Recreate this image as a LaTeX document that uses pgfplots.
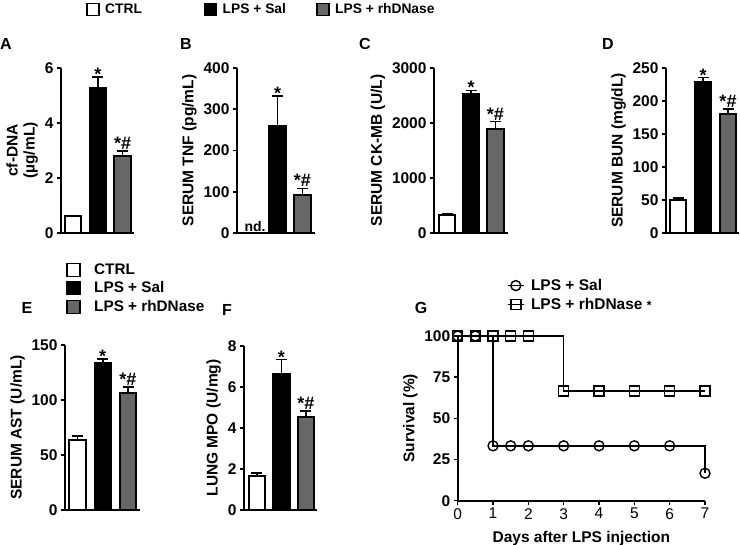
\documentclass[border=0pt]{standalone}
\usepackage{fontspec}
\setmainfont{Liberation Sans}
\usepackage{pgfplots}
\pgfplotsset{compat=1.18}
\definecolor{darkg}{HTML}{676767}
\newcommand\lab{\bfseries\fontsize{15.5bp}{17bp}\selectfont}
\newcommand\tck{\bfseries\fontsize{15.5bp}{17bp}\selectfont}
\newcommand\ann{\bfseries\fontsize{18bp}{19bp}\selectfont}
\newcommand\plab{\bfseries\fontsize{16bp}{17bp}\selectfont}
\pgfplotsset{
  barpanel/.style={
    scale only axis, anchor=south west,
    axis lines=left, axis line style={-, line width=2bp},
    xtick=\empty, ymin=0,
    ybar, bar shift=0pt, bar width=16.5bp,
    tick style={black, line width=1.6bp},
    major tick length=4bp, tick align=outside,
    yticklabel style={font=\tck},
    ylabel style={font=\lab, align=center},
    /pgf/number format/assume math mode=true,
    /pgf/number format/1000 sep={},
    clip=false,
  },
  bars/.style={draw=black, line width=1.8bp,
    error bars/y dir=plus, error bars/y explicit,
    error bars/error bar style={line width=1.8bp, black},
    error bars/error mark options={black, line width=1.8bp, mark size=5.5bp, rotate=90}},
  legbox/.style={hide axis, scale only axis, width=1bp, height=1bp,
    xmin=0, xmax=1, ymin=0, ymax=1, anchor=north west},
}
\tikzset{
  astr/.style={anchor=base, font=\ann, yshift=-3.5bp},
  ahash/.style={anchor=base, font=\ann, yshift=1.5bp},
}
\begin{document}
\begin{tikzpicture}
\useasboundingbox (0,0) rectangle (740bp,-545bp);

% ---------- top legend
\begin{axis}[legbox, at={(86bp,-2bp)},
  legend columns=3,
  legend style={at={(0,1)}, anchor=north west, draw=none, fill=none, inner sep=0pt,
    font=\bfseries\fontsize{13.8bp}{15bp}\selectfont,
    nodes={inner sep=1.5bp, anchor=west},
    /tikz/every odd column/.append style={column sep=4bp}},
  legend image code/.code={\draw[#1] (0bp,-6bp) rectangle (12bp,6bp);}]
\addlegendimage{fill=white, draw=black, line width=1.5bp}
\addlegendentry{\makebox[97bp][l]{CTRL}}
\addlegendimage{fill=black, draw=black, line width=1.5bp}
\addlegendentry{\makebox[92bp][l]{LPS + Sal}}
\addlegendimage{fill=darkg, draw=black, line width=1.5bp}
\addlegendentry{LPS + rhDNase}
\end{axis}

% ---------- A
\begin{axis}[barpanel, at={(61bp,-233bp)}, width=73bp, height=165bp,
  xmin=0.515, xmax=3.46, ymax=6, ytick={0,2,4,6},
  ylabel={cf-DNA\\(µg/mL)}]
\addplot[bars, fill=white] coordinates {(1,0.61) +- (0,0.03)};
\addplot[bars, fill=black] coordinates {(2,5.29) +- (0,0.37)};
\addplot[bars, fill=darkg] coordinates {(3,2.80) +- (0,0.18)};
\node[astr] at (axis cs:2,5.66) {*};
\node[ahash] at (axis cs:3,2.98) {*\#};
\end{axis}

% ---------- B
\begin{axis}[barpanel, at={(237bp,-233bp)}, width=78bp, height=165bp,
  xmin=0.38, xmax=3.5, ymax=400, ytick={0,100,200,300,400},
  ylabel={SERUM TNF (pg/mL)}]
\addplot[bars, fill=black] coordinates {(2,260) +- (0,73)};
\addplot[bars, fill=darkg] coordinates {(3,93) +- (0,15)};
\node[astr] at (axis cs:2,333) {*};
\node[ahash] at (axis cs:3,108) {*\#};
\node[anchor=base, font=\bfseries\fontsize{14bp}{15bp}\selectfont, yshift=2bp] at (axis cs:1.1,0) {nd.};
\end{axis}

% ---------- C
\begin{axis}[barpanel, at={(434bp,-233bp)}, width=74bp, height=165bp,
  xmin=0.46, xmax=3.52, ymax=3000, ytick={0,1000,2000,3000},
  ylabel={SERUM CK-MB (U/L)}]
\addplot[bars, fill=white] coordinates {(1,322) +- (0,31)};
\addplot[bars, fill=black] coordinates {(2,2525) +- (0,67)};
\addplot[bars, fill=darkg] coordinates {(3,1886) +- (0,140)};
\node[astr] at (axis cs:2,2592) {*};
\node[ahash] at (axis cs:3,2026) {*\#};
\end{axis}

% ---------- D
\begin{axis}[barpanel, at={(666bp,-233bp)}, width=73bp, height=165bp,
  xmin=0.52, xmax=3.44, ymax=250, ytick={0,50,100,150,200,250},
  ylabel={SERUM BUN (mg/dL)}]
\addplot[bars, fill=white] coordinates {(1,50) +- (0,3)};
\addplot[bars, fill=black] coordinates {(2,229.6) +- (0,6)};
\addplot[bars, fill=darkg] coordinates {(3,180.7) +- (0,6.7)};
\node[astr] at (axis cs:2,235.6) {*};
\node[ahash] at (axis cs:3,187.4) {*\#};
\end{axis}

% ---------- second legend
\begin{axis}[legbox, at={(66bp,-262bp)},
  legend style={at={(0,1)}, anchor=north west, draw=none, fill=none, inner sep=0pt,
    font=\bfseries\fontsize{15.3bp}{17bp}\selectfont,
    nodes={inner sep=1.5bp, anchor=west},
    /tikz/every odd column/.append style={column sep=12bp}, row sep=3bp},
  legend image code/.code={\draw[#1] (0bp,-6.5bp) rectangle (13bp,6.5bp);}]
\addlegendimage{fill=white, draw=black, line width=1.5bp}
\addlegendentry{CTRL}
\addlegendimage{fill=black, draw=black, line width=1.5bp}
\addlegendentry{LPS + Sal}
\addlegendimage{fill=darkg, draw=black, line width=1.5bp}
\addlegendentry{LPS + rhDNase}
\end{axis}

% ---------- E
\begin{axis}[barpanel, at={(65bp,-510bp)}, width=75bp, height=165bp,
  xmin=0.505, xmax=3.475, ymax=150, ytick={0,50,100,150},
  ylabel={SERUM AST (U/mL)}]
\addplot[bars, fill=white] coordinates {(1,63.6) +- (0,3.7)};
\addplot[bars, fill=black] coordinates {(2,133.3) +- (0,4.3)};
\addplot[bars, fill=darkg] coordinates {(3,106.7) +- (0,5.4)};
\node[astr] at (axis cs:2,137.6) {*};
\node[ahash] at (axis cs:3,112.1) {*\#};
\end{axis}

% ---------- F
\begin{axis}[barpanel, at={(244bp,-510bp)}, width=73bp, height=164bp,
  xmin=0.47, xmax=3.45, ymax=8, ytick={0,2,4,6,8},
  ylabel={LUNG MPO (U/mg)}]
\addplot[bars, fill=white] coordinates {(1,1.66) +- (0,0.16)};
\addplot[bars, fill=black] coordinates {(2,6.66) +- (0,0.68)};
\addplot[bars, fill=darkg] coordinates {(3,4.53) +- (0,0.31)};
\node[astr] at (axis cs:2,7.34) {*};
\node[ahash] at (axis cs:3,4.84) {*\#};
\end{axis}

% ---------- G
\begin{axis}[scale only axis, anchor=south west, at={(457.7bp,-500.7bp)},
  width=247.3bp, height=164.7bp,
  xmin=0, xmax=7, ymin=0, ymax=100,
  axis lines=left, axis line style={-, line width=1.6bp},
  xtick={0,1,2,3,4,5,6,7}, ytick={0,25,50,75,100},
  tick style={black, line width=1.5bp}, major tick length=4bp, tick align=outside,
  xticklabel style={font=\fontsize{15.5bp}{17bp}\selectfont},
  yticklabel style={font=\tck},
  xlabel={Days after LPS injection}, ylabel={Survival (\%)},
  xlabel style={font=\lab, yshift=-5bp}, ylabel style={font=\lab},
  /pgf/number format/assume math mode=true,
  clip=false,
  legend style={at={(0.199,1.355)}, anchor=north west, draw=none, fill=none, inner sep=0pt,
    font=\bfseries\fontsize{15.5bp}{17bp}\selectfont,
    nodes={inner sep=1.5bp, anchor=west}, row sep=3bp,
    /tikz/every odd column/.append style={column sep=5bp}},
  legend image code/.code={\draw[#1, mark repeat=2, mark phase=2] plot coordinates {(0bp,0bp) (8bp,0bp) (16bp,0bp)};},
  ]
\addplot[black, line width=1.4bp, const plot, mark=o, mark size=5bp,
  mark options={line width=1.4bp, solid}]
  coordinates {(0,100) (0.5,100) (1,33.33) (1.5,33.33) (2,33.33) (3,33.33) (4,33.33) (5,33.33) (6,33.33) (7,16.67)};
\addlegendentry{LPS + Sal}
\addplot[black, line width=1.4bp, const plot, mark=square, mark size=5bp,
  mark options={line width=1.4bp, solid}]
  coordinates {(0,100) (0.5,100) (1,100) (1.5,100) (2,100) (3,66.67) (4,66.67) (5,66.67) (6,66.67) (7,66.67)};
\addlegendentry{LPS + rhDNase {\fontsize{12bp}{12bp}\selectfont*}}
\end{axis}

% ---------- panel letters
\node[font=\plab] at (6bp,-44bp) {A};
\node[font=\plab] at (186bp,-44bp) {B};
\node[font=\plab] at (365bp,-44bp) {C};
\node[font=\plab] at (608bp,-44bp) {D};
\node[font=\plab] at (27bp,-308bp) {E};
\node[font=\plab] at (227bp,-310bp) {F};
\node[font=\plab] at (421bp,-308bp) {G};
\end{tikzpicture}
\end{document}
